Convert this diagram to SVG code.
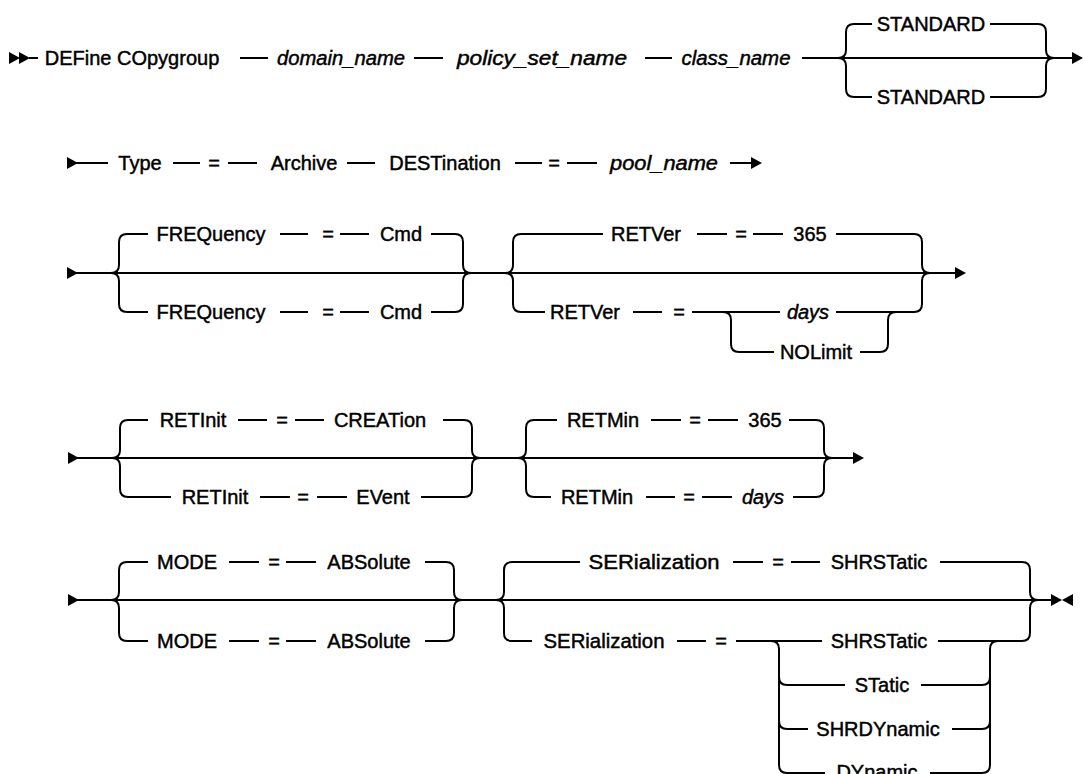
<svg xmlns="http://www.w3.org/2000/svg" width="1083" height="774" viewBox="0 0 1083 774">
<style>
.t{font-family:"Liberation Sans",Arial,sans-serif;font-size:20px;fill:#000;stroke:#000;stroke-width:0.45px;text-anchor:middle}
.i{font-style:italic}
.c{fill:none;stroke:#000;stroke-width:2}
.a{fill:#000}
</style>
<defs>
<path id="ah" d="M0,-6 L11,0 L0,6 Z"/>
<path id="al" d="M11,-6 L0,0 L11,6 Z"/>
</defs>
<rect width="1083" height="774" fill="#fff"/>
<g id="connectors">
<!-- row 1 -->
<use href="#ah" class="a" x="9" y="58"/>
<use href="#ah" class="a" x="19" y="58"/>
<path class="c" d="M29,58 L38,58 M240,58 L268,58 M414,58 L443,58 M645,58 L672,58 M802,58 L1072,58"/>
<path class="c" d="M838,58 Q846,58 846,50 L846,32 Q846,24 854,24 L872,24 M990,24 L1038,24 Q1046,24 1046,32 L1046,50 Q1046,58 1054,58"/>
<path class="c" d="M838,58 Q846,58 846,66 L846,89 Q846,97 854,97 L872,97 M990,97 L1038,97 Q1046,97 1046,89 L1046,66 Q1046,58 1054,58"/>
<use href="#ah" class="a" x="1072" y="58"/>
<!-- row 2 -->
<use href="#ah" class="a" x="67" y="163"/>
<path class="c" d="M76,163 L108,163 M173,163 L200,163 M228,163 L257,163 M347,163 L375,163 M515,163 L542,163 M567,163 L597,163 M730,163 L752,163"/>
<use href="#ah" class="a" x="751" y="163"/>
<!-- row 3 -->
<use href="#ah" class="a" x="67" y="273"/>
<path class="c" d="M76,273 L956,273"/>
<path class="c" d="M111,273 Q119,273 119,265 L119,242 Q119,234 127,234 L148,234 M280,234 L308,234 M340,234 L369,234 M431,234 L455,234 Q463,234 463,242 L463,265 Q463,273 471,273"/>
<path class="c" d="M111,273 Q119,273 119,281 L119,304 Q119,312 127,312 L148,312 M280,312 L308,312 M340,312 L369,312 M431,312 L455,312 Q463,312 463,304 L463,281 Q463,273 471,273"/>
<path class="c" d="M505,273 Q513,273 513,265 L513,242 Q513,234 521,234 L603,234 M697,234 L727,234 M753,234 L783,234 M836,234 L914,234 Q922,234 922,242 L922,265 Q922,273 930,273"/>
<path class="c" d="M505,273 Q513,273 513,281 L513,304 Q513,312 521,312 L545,312 M633,312 L662,312 M692,312 L780,312 M836,312 L914,312 Q922,312 922,304 L922,281 Q922,273 930,273"/>
<path class="c" d="M723,312 Q731,312 731,320 L731,344 Q731,352 739,352 L774,352 M860,352 L880,352 Q888,352 888,344 L888,320 Q888,312 896,312"/>
<use href="#ah" class="a" x="955" y="273"/>
<!-- row 4 -->
<use href="#ah" class="a" x="68" y="458"/>
<path class="c" d="M77,458 L854,458"/>
<path class="c" d="M112,458 Q120,458 120,450 L120,428 Q120,420 128,420 L148,420 M238,420 L267,420 M295,420 L324,420 M443,420 L464,420 Q472,420 472,428 L472,450 Q472,458 480,458"/>
<path class="c" d="M112,458 Q120,458 120,466 L120,489 Q120,497 128,497 L171,497 M260,497 L290,497 M317,497 L347,497 M421,497 L464,497 Q472,497 472,489 L472,466 Q472,458 480,458"/>
<path class="c" d="M518,458 Q526,458 526,450 L526,428 Q526,420 534,420 L557,420 M651,420 L681,420 M708,420 L738,420 M789,420 L816,420 Q824,420 824,428 L824,450 Q824,458 832,458"/>
<path class="c" d="M518,458 Q526,458 526,466 L526,489 Q526,497 534,497 L551,497 M646,497 L675,497 M702,497 L732,497 M793,497 L816,497 Q824,497 824,489 L824,466 Q824,458 832,458"/>
<use href="#ah" class="a" x="853" y="458"/>
<!-- row 5 -->
<use href="#ah" class="a" x="68" y="600"/>
<path class="c" d="M77,600 L1052,600"/>
<path class="c" d="M111,600 Q119,600 119,592 L119,570 Q119,562 127,562 L148,562 M229,562 L259,562 M286,562 L316,562 M425,562 L446,562 Q454,562 454,570 L454,592 Q454,600 462,600"/>
<path class="c" d="M111,600 Q119,600 119,608 L119,633 Q119,641 127,641 L148,641 M229,641 L259,641 M286,641 L316,641 M425,641 L446,641 Q454,641 454,633 L454,608 Q454,600 462,600"/>
<path class="c" d="M496,600 Q504,600 504,592 L504,570 Q504,562 512,562 L580,562 M733,562 L763,562 M791,562 L820,562 M940,562 L1022,562 Q1030,562 1030,570 L1030,592 Q1030,600 1038,600"/>
<path class="c" d="M496,600 Q504,600 504,608 L504,633 Q504,641 512,641 L532,641 M677,641 L706,641 M736,641 L822,641 M938,641 L1022,641 Q1030,641 1030,633 L1030,608 Q1030,600 1038,600"/>
<path class="c" d="M771,641 Q779,641 779,649 L779,765 Q779,773 787,773 L825,773 M779,677 Q779,685 787,685 L845,685 M779,721 Q779,729 787,729 L808,729"/>
<path class="c" d="M982,773 Q990,773 990,765 L990,649 Q990,641 998,641 M921,685 L982,685 Q990,685 990,677 M952,729 L982,729 Q990,729 990,721 M930,773 L982,773"/>
<use href="#ah" class="a" x="1051" y="600"/>
<use href="#al" class="a" x="1062" y="600"/>
</g>
<g id="n-define"><text class="t" x="132" y="65">DEFine COpygroup</text></g>
<g id="n-domain"><text class="t i" x="341" y="65" textLength="128" lengthAdjust="spacingAndGlyphs">domain_name</text></g>
<g id="n-policy"><text class="t i" x="542" y="65" textLength="170" lengthAdjust="spacingAndGlyphs">policy_set_name</text></g>
<g id="n-class"><text class="t i" x="736" y="65" textLength="109" lengthAdjust="spacingAndGlyphs">class_name</text></g>
<g id="n-std1"><text class="t" x="931" y="31">STANDARD</text></g>
<g id="n-std2"><text class="t" x="931" y="104">STANDARD</text></g>
<g id="n-type"><text class="t" x="140" y="170">Type</text></g>
<g id="n-eq1"><text class="t" x="214" y="170">=</text></g>
<g id="n-archive"><text class="t" x="304" y="170">Archive</text></g>
<g id="n-dest"><text class="t" x="445" y="170">DESTination</text></g>
<g id="n-eq2"><text class="t" x="554" y="170">=</text></g>
<g id="n-pool"><text class="t i" x="664" y="170" textLength="108" lengthAdjust="spacingAndGlyphs">pool_name</text></g>
<g id="n-freq1"><text class="t" x="211" y="241">FREQuency</text><text class="t" x="328" y="241">=</text><text class="t" x="401" y="241">Cmd</text></g>
<g id="n-freq2"><text class="t" x="211" y="319">FREQuency</text><text class="t" x="328" y="319">=</text><text class="t" x="401" y="319">Cmd</text></g>
<g id="n-retver1"><text class="t" x="646" y="241">RETVer</text><text class="t" x="741" y="241">=</text><text class="t" x="810" y="241">365</text></g>
<g id="n-retver2"><text class="t" x="585" y="319">RETVer</text><text class="t" x="679" y="319">=</text></g>
<g id="n-days1"><text class="t i" x="808" y="319">days</text></g>
<g id="n-nolimit"><text class="t" x="816" y="359">NOLimit</text></g>
<g id="n-retinit1"><text class="t" x="193" y="427">RETInit</text><text class="t" x="282" y="427">=</text><text class="t" x="380" y="427">CREATion</text></g>
<g id="n-retinit2"><text class="t" x="215" y="504">RETInit</text><text class="t" x="303" y="504">=</text><text class="t" x="383" y="504">EVent</text></g>
<g id="n-retmin1"><text class="t" x="603" y="427">RETMin</text><text class="t" x="695" y="427">=</text><text class="t" x="765" y="427">365</text></g>
<g id="n-retmin2"><text class="t" x="597" y="504">RETMin</text><text class="t" x="689" y="504">=</text><text class="t i" x="763" y="504">days</text></g>
<g id="n-mode1"><text class="t" x="187" y="569">MODE</text><text class="t" x="274" y="569">=</text><text class="t" x="369" y="569">ABSolute</text></g>
<g id="n-mode2"><text class="t" x="187" y="648">MODE</text><text class="t" x="274" y="648">=</text><text class="t" x="369" y="648">ABSolute</text></g>
<g id="n-ser1"><text class="t" x="654" y="569" textLength="131" lengthAdjust="spacingAndGlyphs">SERialization</text><text class="t" x="778" y="569">=</text><text class="t" x="879" y="569">SHRSTatic</text></g>
<g id="n-ser2"><text class="t" x="604" y="648" textLength="121" lengthAdjust="spacingAndGlyphs">SERialization</text><text class="t" x="721" y="648">=</text></g>
<g id="n-shrstatic"><text class="t" x="879" y="648">SHRSTatic</text></g>
<g id="n-static"><text class="t" x="882" y="692">STatic</text></g>
<g id="n-shrdyn"><text class="t" x="878" y="736">SHRDYnamic</text></g>
<g id="n-dyn"><text class="t" x="877" y="779">DYnamic</text></g>
</svg>
